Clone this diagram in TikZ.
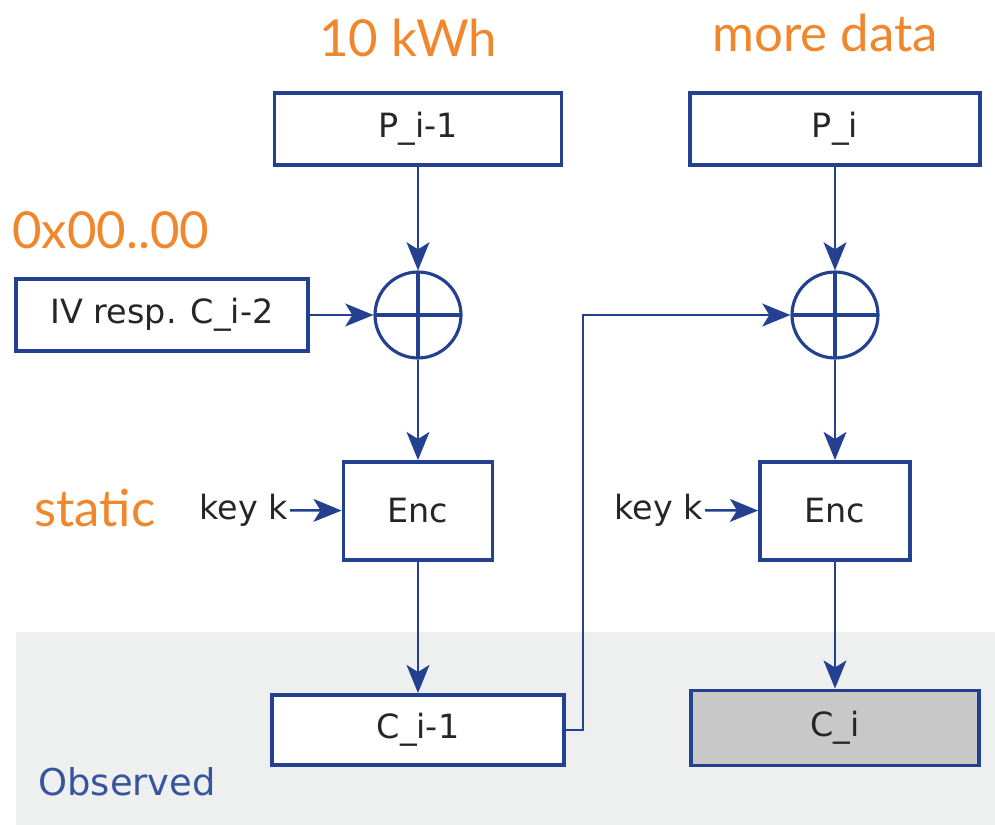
\documentclass[tikz,border=0pt]{standalone}
\usepackage{fontspec}
\setmainfont{DejaVu Sans}
\newfontfamily\notefont{Lato}
\usetikzlibrary{arrows.meta}
\definecolor{cbcblue}{RGB}{35,64,145}
\definecolor{obsblue}{RGB}{55,85,155}
\definecolor{noteorange}{RGB}{240,135,45}
\definecolor{obsgray}{RGB}{238,239,239}
\definecolor{outgray}{RGB}{200,200,200}
\tikzset{
  blockbox/.style={draw=cbcblue, line width=2.2pt, fill=white, inner sep=0pt,
    font=\fontsize{19}{22}\selectfont, text=black!85},
  xorop/.style={circle, draw=cbcblue, line width=1.8pt, minimum size=1.72cm,
    inner sep=0pt, path picture={
      \draw[cbcblue, line width=1.8pt]
        (path picture bounding box.north) -- (path picture bounding box.south)
        (path picture bounding box.west) -- (path picture bounding box.east);}},
  flow/.style={draw=cbcblue, line width=1.4pt, -{Stealth[length=16pt,width=13pt,inset=4pt]}},
  note/.style={text=noteorange, font=\notefont\fontsize{29}{34}\selectfont},
  keylabel/.style={font=\fontsize{19}{22}\selectfont, text=black!85, inner sep=1pt}
}
\begin{document}
\begin{tikzpicture}[x=0.02cm,y=-0.02cm]
  \useasboundingbox (0,0) rectangle (995,825);
  % ---- observed area ----
  \fill[obsgray] (16,632) rectangle (995,825);
  \node[anchor=west, text=obsblue, font=\fontsize{21}{25}\selectfont, inner sep=0pt] (observed) at (38,782) {Observed};
  % ---- notes ----
  \node[note] (kwh)    at (408,38)  {10 kWh};
  \node[note] (more)   at (825,33)  {more data};
  \node[note, anchor=west, inner sep=0pt] (zeros) at (12,230) {0x00..00};
  \node[note] (static) at (95,508)  {static};
  % ---- left chain ----
  \node[blockbox, minimum width=5.74cm, minimum height=1.44cm] (pprev) at (418,129) {P\_i-1};
  \node[blockbox, minimum width=5.84cm, minimum height=1.44cm] (iv)    at (162,315) {IV resp. C\_i-2};
  \node[xorop] (xorl) at (418,315) {};
  \node[blockbox, minimum width=2.98cm, minimum height=1.96cm] (encl)  at (418,511) {Enc};
  \node[keylabel, anchor=east] (keyl) at (290,510) {key k};
  \node[blockbox, minimum width=5.84cm, minimum height=1.40cm] (cprev) at (418,730) {C\_i-1};
  % ---- right chain ----
  \node[blockbox, minimum width=5.80cm, minimum height=1.44cm] (pcur)  at (835,129) {P\_i};
  \node[xorop] (xorr) at (835,315) {};
  \node[blockbox, minimum width=3.00cm, minimum height=1.96cm] (encr)  at (835,511) {Enc};
  \node[keylabel, anchor=east] (keyr) at (705,510) {key k};
  \node[blockbox, fill=outgray, minimum width=5.76cm, minimum height=1.50cm] (ccur) at (835,728) {C\_i};
  % ---- connectors ----
  \draw[flow] (pprev) -- (xorl);
  \draw[flow] (iv) -- (xorl);
  \draw[flow] (xorl) -- (encl);
  \draw[flow] (keyl) -- (encl);
  \draw[flow] (encl) -- (cprev);
  \draw[flow] (cprev.east) -- ++(17,0) |- (xorr.west);
  \draw[flow] (pcur) -- (xorr);
  \draw[flow] (xorr) -- (encr);
  \draw[flow] (keyr) -- (encr);
  \draw[flow] (encr) -- (ccur);
\end{tikzpicture}
\end{document}
